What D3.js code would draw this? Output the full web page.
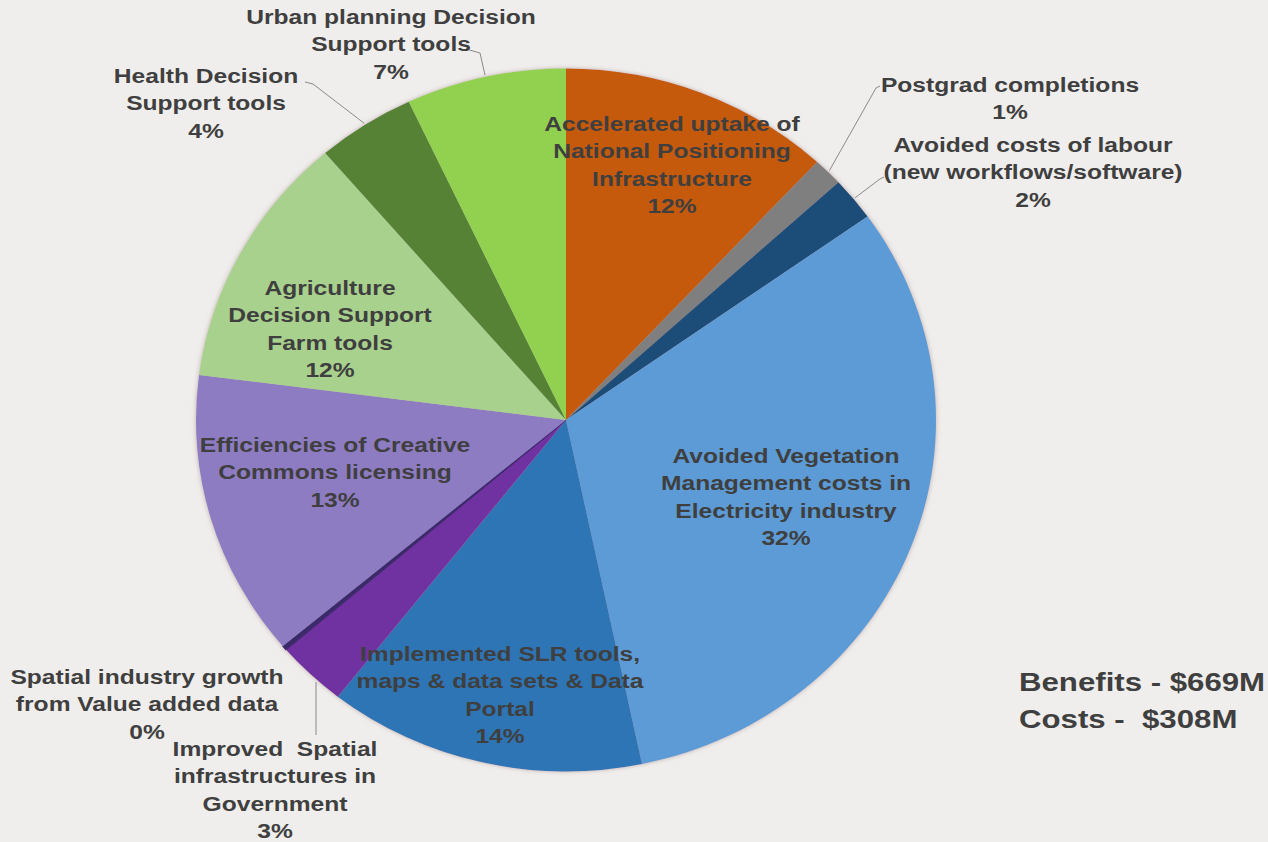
<!DOCTYPE html>
<html>
<head>
<meta charset="utf-8">
<script src="https://cdn.jsdelivr.net/npm/d3@7"></script>
<style>
  body { margin: 0; background: #efeeec; }
  svg { display: block; }
  .lbl { font-family: "Liberation Sans", Arial, sans-serif; font-weight: bold; fill: #3f3f3f; white-space: pre; }
</style>
</head>
<body>
<div id="my_dataviz"><svg></svg></div>
<script>
// data, clockwise from 12 o'clock
var categories = [
    "Accelerated uptake of National Positioning Infrastructure",
    "Postgrad completions",
    "Avoided costs of labour (new workflows/software)",
    "Avoided Vegetation Management costs in Electricity industry",
    "Implemented SLR tools, maps & data sets & Data Portal",
    "Improved Spatial infrastructures in Government",
    "Spatial industry growth from Value added data",
    "Efficiencies of Creative Commons licensing",
    "Agriculture Decision Support Farm tools",
    "Health Decision Support tools",
    "Urban planning Decision Support tools"
];
var shares = [11.9, 1.3, 2.0, 31.6, 13.9, 3.1, 0.2, 13.2, 11.7, 4.3, 7.0];
var pctLabels = ["12%", "1%", "2%", "32%", "14%", "3%", "0%", "13%", "12%", "4%", "7%"];
var totals = ["Benefits - $669M", "Costs -  $308M"];

var colors = ["#c55a11", "#7f7f7f", "#1f4e79", "#5b9bd5", "#2e75b6", "#7030a0",
    "#3b2a6a", "#8e7cc3", "#a9d18e", "#548235", "#92d050"];

var width = 1268, height = 842;
var cx = 566, cy = 420, radius = 370, squash = 0.95;
var stretch = 1.2; // text in the original is widened

// label layout: lines of text, centre x, first baseline y, outside leader start
var labelLayout = [
    { lines: ["Accelerated uptake of", "National Positioning", "Infrastructure"], x: 672, y: 131 },
    { lines: ["Postgrad completions"], x: 1010, y: 92, anchor: [880, 86] },
    { lines: ["Avoided costs of labour", "(new workflows/software)"], x: 1033, y: 152, anchor: [884, 177] },
    { lines: ["Avoided Vegetation", "Management costs in", "Electricity industry"], x: 786, y: 463 },
    { lines: ["Implemented SLR tools,", "maps & data sets & Data", "Portal"], x: 500, y: 661 },
    { lines: ["Improved  Spatial", "infrastructures in", "Government"], x: 275, y: 756, anchor: [316, 735] },
    { lines: ["Spatial industry growth", "from Value added data"], x: 147, y: 684 },
    { lines: ["Efficiencies of Creative", "Commons licensing"], x: 335, y: 452 },
    { lines: ["Agriculture", "Decision Support", "Farm tools"], x: 330, y: 295 },
    { lines: ["Health Decision", "Support tools"], x: 206, y: 83, anchor: [305, 82] },
    { lines: ["Urban planning Decision", "Support tools"], x: 391, y: 24, anchor: [466, 49] }
];

var svg = d3.select("#my_dataviz").select("svg")
    .attr("width", width)
    .attr("height", height);

var defs = svg.append("defs");
var f = defs.append("filter").attr("id", "shadow")
    .attr("x", "-10%").attr("y", "-10%").attr("width", "120%").attr("height", "120%");
f.append("feDropShadow").attr("dx", 0).attr("dy", 0).attr("stdDeviation", 2.5)
    .attr("flood-color", "#a08080").attr("flood-opacity", 0.6);

var pie = d3.pie().sort(null).value(function (d) { return d; });
var arcs = pie(shares);
var arc = d3.arc().innerRadius(0).outerRadius(radius);

var pieG = svg.append("g")
    .attr("transform", "translate(" + cx + "," + cy + ") scale(1," + squash + ")")
    .attr("filter", "url(#shadow)");

pieG.selectAll("path")
    .data(arcs)
    .enter()
    .append("path")
    .attr("d", arc)
    .attr("fill", function (d, i) { return colors[i]; })
    .attr("stroke", function (d, i) { return i == 6 ? "#3b2a6a" : "none"; })
    .attr("stroke-width", 1.2);

// point on the rim (screen coords) for a slice's mid angle
function rimPoint(d, r) {
    var a = (d.startAngle + d.endAngle) / 2;
    return [cx + Math.sin(a) * r, cy - Math.cos(a) * r * squash];
}

// leader lines for outside labels
var leaders = svg.append("g");
labelLayout.forEach(function (L, i) {
    if (!L.anchor) return;
    var p = rimPoint(arcs[i], radius + 2);
    if (i == 5) {
        // vertical tick up to the purple slice
        leaders.append("line")
            .attr("x1", L.anchor[0]).attr("y1", L.anchor[1])
            .attr("x2", L.anchor[0]).attr("y2", 682)
            .attr("stroke", "#8a8a8a").attr("stroke-width", 1);
        return;
    }
    var start = L.anchor;
    var mid = [start[0] + (i == 10 ? 14 : (i == 9 ? 8 : -4)), start[1] + (i == 10 ? 4 : 2)];
    leaders.append("polyline")
        .attr("points", [start, mid, p].join(" "))
        .attr("fill", "none").attr("stroke", "#8a8a8a").attr("stroke-width", 1);
});

// text labels
var lineH = 27.5;
var labels = svg.append("g");
labelLayout.forEach(function (L, i) {
    var t = labels.append("g")
        .attr("transform", "translate(" + L.x + ",0) scale(" + stretch + ",1)")
        .append("text")
        .attr("class", "lbl")
        .attr("text-anchor", "middle")
        .attr("font-size", 20.5);
    var all = L.lines.concat([pctLabels[i]]);
    all.forEach(function (s, k) {
        t.append("tspan")
            .attr("x", 0)
            .attr("y", L.y + k * lineH)
            .text(s);
    });
});

// totals
svg.append("g")
    .attr("transform", "translate(1019,0) scale(" + stretch + ",1)")
    .selectAll("text")
    .data(totals)
    .enter()
    .append("text")
    .attr("class", "lbl")
    .attr("x", 0)
    .attr("y", function (d, i) { return 691 + i * 37; })
    .attr("font-size", 26)
    .text(function (d) { return d; });
</script>
</body>
</html>
